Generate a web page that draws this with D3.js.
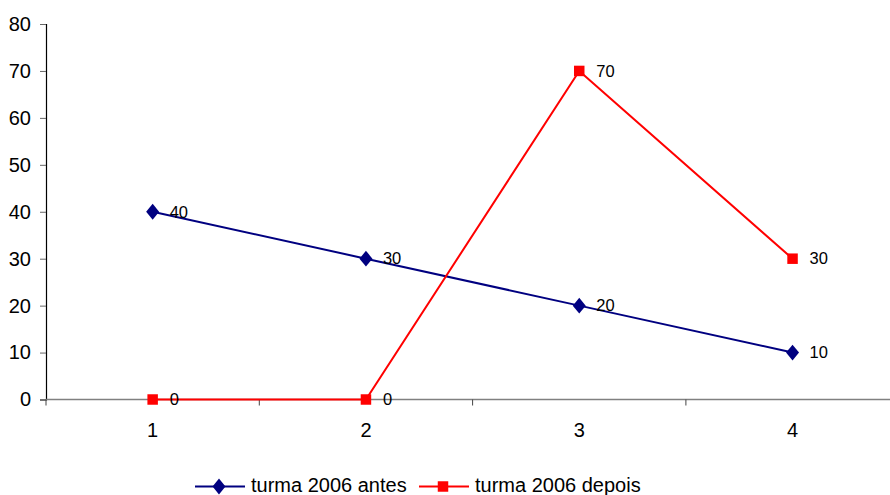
<!DOCTYPE html>
<html>
<head>
<meta charset="utf-8">
<script src="https://cdn.jsdelivr.net/npm/d3@7"></script>
<style>
  body { margin: 0; background: #fff; }
  svg { display: block; font-family: "Liberation Sans", Arial, sans-serif; }
</style>
</head>
<body>
<div id="chart"></div>
<script>
const categories = ['1', '2', '3', '4'];
const antes = [40, 30, 20, 10];
const depois = [0, 0, 70, 30];
const yTicks = [0, 10, 20, 30, 40, 50, 60, 70, 80];
const seriesNames = ['turma 2006 antes', 'turma 2006 depois'];

const width = 890, height = 495;
const plotLeft = 46, plotTop = 24, plotBottom = 399.5;
const band = 213.3;

const svg = d3.select('#chart').append('svg')
  .attr('width', width)
  .attr('height', height);

const x = d3.scaleBand()
  .domain(categories)
  .range([plotLeft, plotLeft + band * categories.length]);

const y = d3.scaleLinear()
  .domain([0, 80])
  .range([plotBottom, plotTop]);

// y axis
const yAxis = svg.append('g')
  .attr('transform', `translate(${plotLeft},0)`)
  .call(d3.axisLeft(y).tickValues(yTicks).tickSize(6).tickPadding(9));
yAxis.select('.domain').attr('stroke', '#000').attr('stroke-width', 1.2);
yAxis.selectAll('.tick line').attr('stroke', '#666');
yAxis.selectAll('.tick text')
  .attr('font-size', '20px')
  .attr('fill', '#000')
  .attr('font-family', '"Liberation Sans", Arial, sans-serif');

// x axis line + ticks at band edges
svg.append('line')
  .attr('x1', plotLeft).attr('x2', width)
  .attr('y1', plotBottom).attr('y2', plotBottom)
  .attr('stroke', '#808080').attr('stroke-width', 1.5);

const edges = categories.map(c => x(c)).concat([x(categories[categories.length - 1]) + band]);
svg.selectAll('.xtick')
  .data(edges)
  .enter().append('line')
  .attr('x1', d => d).attr('x2', d => d)
  .attr('y1', plotBottom).attr('y2', plotBottom + 6)
  .attr('stroke', '#444');

svg.selectAll('.xlabel')
  .data(categories)
  .enter().append('text')
  .attr('x', d => x(d) + x.bandwidth() / 2)
  .attr('y', plotBottom + 37)
  .attr('text-anchor', 'middle')
  .attr('font-size', '20px')
  .text(d => d);

const cx = c => x(c) + x.bandwidth() / 2;
const line = d3.line()
  .x((d, i) => cx(categories[i]))
  .y(d => y(d));

function drawSeries(values, color, shape) {
  svg.append('path')
    .datum(values)
    .attr('d', line)
    .attr('fill', 'none')
    .attr('stroke', color)
    .attr('stroke-width', 2);

  svg.selectAll(null)
    .data(values)
    .enter().append('path')
    .attr('d', d3.symbol().type(shape === 'square' ? d3.symbolSquare : d3.symbolDiamond).size(shape === 'square' ? 110 : 80))
    .attr('transform', (d, i) => `translate(${cx(categories[i])},${y(d)})` + (shape === 'diamond' ? ' scale(1.35,0.95)' : ''))
    .attr('fill', color);

  svg.selectAll(null)
    .data(values)
    .enter().append('text')
    .attr('x', (d, i) => cx(categories[i]) + 17)
    .attr('y', d => y(d))
    .attr('dy', '0.35em')
    .attr('font-size', '16.5px')
    .text(d => d);
}

drawSeries(antes, '#000080', 'diamond');
drawSeries(depois, '#FF0000', 'square');

// legend
const legend = [
  { name: seriesNames[0], color: '#000080', shape: 'diamond', x0: 195 },
  { name: seriesNames[1], color: '#FF0000', shape: 'square', x0: 419 }
];
const ly = 486.5;
legend.forEach(l => {
  svg.append('line')
    .attr('x1', l.x0).attr('x2', l.x0 + 50)
    .attr('y1', ly).attr('y2', ly)
    .attr('stroke', l.color).attr('stroke-width', 2);
  svg.append('path')
    .attr('d', d3.symbol().type(l.shape === 'square' ? d3.symbolSquare : d3.symbolDiamond).size(l.shape === 'square' ? 110 : 80))
    .attr('transform', `translate(${l.x0 + 24},${ly})` + (l.shape === 'diamond' ? ' scale(1.35,0.95)' : ''))
    .attr('fill', l.color);
  svg.append('text')
    .attr('x', l.x0 + 56)
    .attr('y', 491.5)
    .attr('font-size', '20px')
    .text(l.name);
});
</script>
</body>
</html>
